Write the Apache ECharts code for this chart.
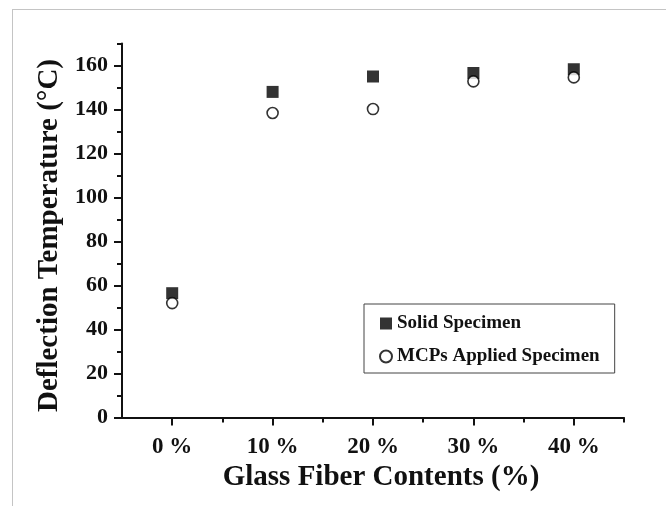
<!DOCTYPE html>
<html>
<head>
<meta charset="utf-8">
<script src="https://cdn.jsdelivr.net/npm/echarts@6/dist/echarts.min.js"></script>
<style>
  html, body { margin: 0; padding: 0; background: #fff; }
  #wrap { position: relative; width: 666px; height: 506px; }
  #frame { position: absolute; left: 12px; top: 9px; right: 0; bottom: 0;
           border-top: 1px solid #c4c4c4; border-left: 1px solid #c4c4c4; }
  #chart { position: absolute; left: 0; top: 0; width: 666px; height: 506px; }
</style>
</head>
<body>
<div id="wrap">
  <div id="frame"></div>
  <div id="chart"></div>
</div>
<script>
var fiberContents = [0, 10, 20, 30, 40];          // glass fiber %
var solidTemp = [56.5, 148, 155, 156.6, 158.3];   // Solid Specimen
var mcpTemp = [52, 138.4, 140.2, 152.8, 154.6];   // MCPs Applied Specimen
var yMajor = [0, 20, 40, 60, 80, 100, 120, 140, 160];
var yMinor = [10, 30, 50, 70, 90, 110, 130, 150, 170];
var xMinor = [5, 15, 25, 35, 45];

var serif = "'Liberation Serif', 'Times New Roman', serif";

function pairs(xs, ys) {
    var out = [];
    for (var i = 0; i < xs.length; i++) {
        out.push([xs[i], ys[i]]);
    }
    return out;
}

var chart = echarts.init(document.getElementById('chart'), null, { renderer: 'canvas' });

var option = {
    animation: false,
    grid: {
        left: 122,
        right: 42,
        top: 43.5,
        bottom: 88.5
    },
    legend: {
        orient: 'vertical',
        left: 364,
        top: 304,
        padding: [10, 15, 7, 15],
        itemGap: 14,
        itemWidth: 12,
        itemHeight: 12,
        borderColor: '#444',
        borderWidth: 1,
        borderRadius: 0,
        backgroundColor: '#fff',
        textStyle: {
            fontFamily: serif,
            fontWeight: 'bold',
            fontSize: 19,
            color: '#111'
        },
        data: ['Solid Specimen', 'MCPs Applied Specimen']
    },
    xAxis: [
        {
            type: 'value',
            min: -5,
            max: 45,
            name: 'Glass Fiber Contents (%)',
            nameLocation: 'middle',
            nameGap: 45,
            nameTextStyle: {
                fontFamily: serif,
                fontWeight: 'bold',
                fontSize: 29,
                color: '#111',
                padding: [0, 0, 0, 16]
            },
            splitLine: { show: false },
            axisLine: { onZero: false, lineStyle: { color: '#111', width: 2 } },
            axisTick: {
                customValues: fiberContents,
                length: 8,
                lineStyle: { color: '#111', width: 2 }
            },
            axisLabel: {
                customValues: fiberContents,
                margin: 18,
                fontFamily: serif,
                fontWeight: 'bold',
                fontSize: 23,
                color: '#111',
                formatter: function (v) { return v + ' %'; }
            }
        },
        {
            type: 'value',
            min: -5,
            max: 45,
            position: 'bottom',
            splitLine: { show: false },
            axisLine: { show: false, onZero: false },
            axisTick: {
                customValues: xMinor,
                length: 5,
                lineStyle: { color: '#111', width: 2 }
            },
            axisLabel: { show: false }
        }
    ],
    yAxis: [
        {
            type: 'value',
            min: 0,
            max: 170,
            name: 'Deflection Temperature (°C)',
            nameLocation: 'middle',
            nameGap: 53,
            nameTextStyle: {
                fontFamily: serif,
                fontWeight: 'bold',
                fontSize: 29,
                color: '#111',
                padding: [0, 10, 0, 0]
            },
            splitLine: { show: false },
            axisLine: { show: true, onZero: false, lineStyle: { color: '#111', width: 2 } },
            axisTick: {
                show: true,
                customValues: yMajor,
                length: 8,
                lineStyle: { color: '#111', width: 2 }
            },
            axisLabel: {
                customValues: yMajor,
                margin: 14,
                fontFamily: serif,
                fontWeight: 'bold',
                fontSize: 22,
                color: '#111'
            }
        },
        {
            type: 'value',
            min: 0,
            max: 170,
            position: 'left',
            offset: 0,
            splitLine: { show: false },
            axisLine: { show: false, onZero: false },
            axisTick: {
                show: true,
                customValues: yMinor,
                length: 5,
                lineStyle: { color: '#111', width: 2 }
            },
            axisLabel: { show: false }
        }
    ],
    series: [
        {
            name: 'Solid Specimen',
            type: 'scatter',
            symbol: 'rect',
            symbolSize: 12,
            itemStyle: { color: '#000' },
            data: pairs(fiberContents, solidTemp)
        },
        {
            name: 'MCPs Applied Specimen',
            type: 'scatter',
            symbol: 'circle',
            symbolSize: 11,
            itemStyle: { color: '#fff', borderColor: '#000', borderWidth: 1.6 },
            data: pairs(fiberContents, mcpTemp)
        }
    ]
};

chart.setOption(option);
</script>
</body>
</html>
